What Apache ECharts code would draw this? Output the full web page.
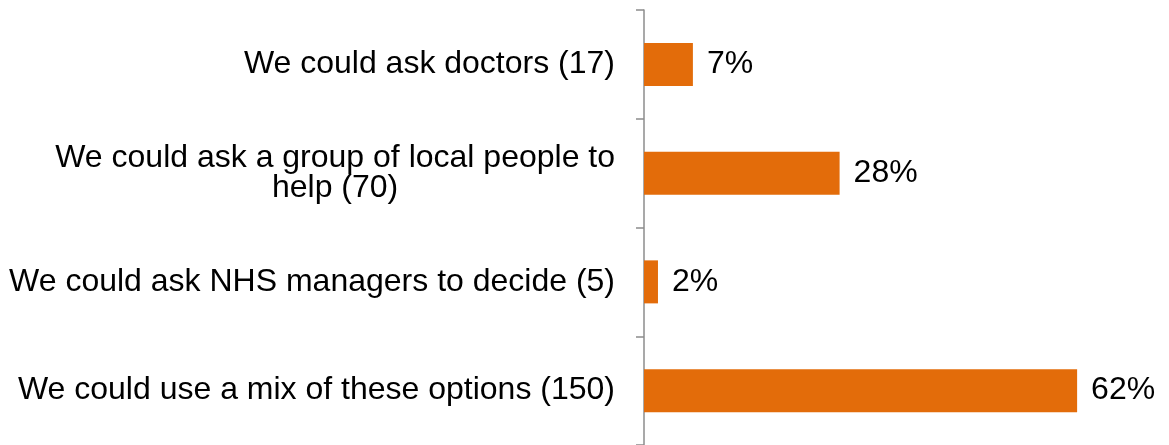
<!DOCTYPE html>
<html><head><meta charset="utf-8">
<script src="https://cdn.jsdelivr.net/npm/echarts@6/dist/echarts.min.js"></script>
<style>html,body{margin:0;padding:0;background:#fff}#c{width:1169px;height:445px}</style>
</head><body><div id="c"></div>
<script>
var categories = [
  ['We could ask doctors (17)'],
  ['We could ask a group of local people to', 'help (70)'],
  ['We could ask NHS managers to decide (5)'],
  ['We could use a mix of these options (150)']
];
var values = [7, 28, 2, 62];

var FONT = 'Liberation Sans, Arial, sans-serif';
var chart = echarts.init(document.getElementById('c'));
var catNames = categories.map(function (c) { return c.join('\n'); });
chart.setOption({
  animation: false,
  grid: { left: 644, right: 36, top: 10, bottom: 0, containLabel: false },
  xAxis: { type: 'value', min: 0, max: 70, show: false },
  yAxis: {
    type: 'category', inverse: true, data: catNames,
    axisLine: { show: true, lineStyle: { color: '#8c8c8c', width: 1.5 } },
    axisTick: { show: true, length: 8, lineStyle: { color: '#8c8c8c', width: 1.5 } },
    axisLabel: {
      margin: 29, fontFamily: FONT, fontSize: 32, color: '#000',
      lineHeight: 30,
      formatter: function (v) {
        return v.split('\n').map(function (l) { return '{c|' + l + '}'; }).join('\n');
      },
      rich: { c: { align: 'center', fontSize: 32, lineHeight: 30, fontFamily: FONT, color: '#000' } }
    },
    splitLine: { show: false }
  },
  series: [{
    type: 'bar', data: values, barWidth: 43,
    itemStyle: { color: '#E36C0A' },
    label: {
      show: true, position: 'right', distance: 14, formatter: '{c}%',
      fontFamily: FONT, fontSize: 32, color: '#000'
    }
  }]
});
</script></body></html>
